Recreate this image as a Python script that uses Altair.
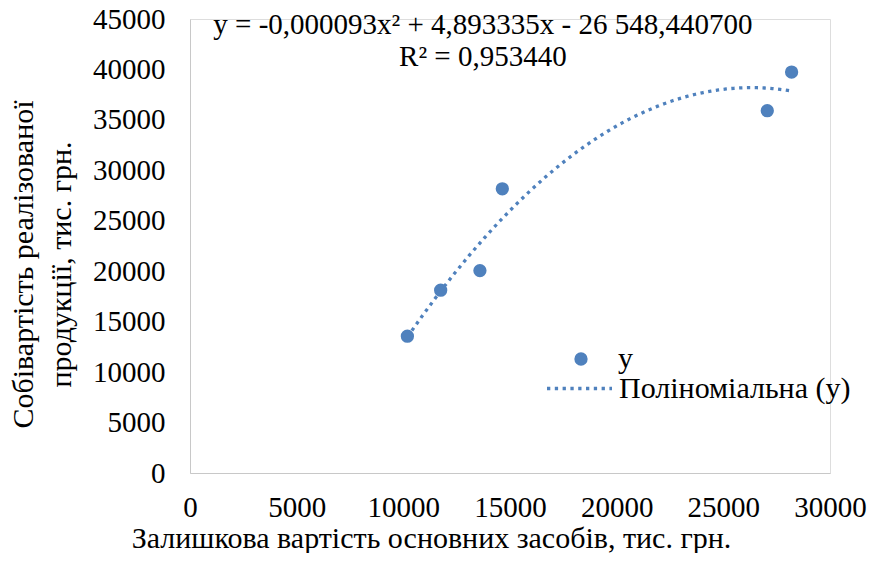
import altair as alt
import pandas as pd

# data
x_vals = [10190, 11750, 13590, 14640, 27060, 28200]
y_vals = [13560, 18120, 20060, 28170, 35910, 39740]
series_name = "у"
trend_name = "Поліноміальна (у)"

ann_text = ["y = -0,000093x² + 4,893335x - 26 548,440700", "R² = 0,953440"]
ann_x = [13730, 13730]
ann_y = [44450, 41230]

FONT = "Liberation Serif"
BLUE = "#4F81BD"
TICK_FS = 29
TITLE_FS = 30
LEG_FS = 30

df = pd.DataFrame({"x": x_vals, "y": y_vals, "s": [series_name] * len(x_vals)})
ann = pd.DataFrame({"t": ann_text, "x": ann_x, "y": ann_y})

xscale = alt.Scale(domain=[0, 30000], nice=False, zero=True)
yscale = alt.Scale(domain=[0, 45000], nice=False, zero=True)

xaxis = alt.Axis(
    values=list(range(0, 30001, 5000)), format="d", ticks=False, grid=False,
    domainColor="#c8c8c8", labelFont=FONT, labelFontSize=TICK_FS, labelColor="#000000",
    labelPadding=20, labelFlush=False,
    title="Залишкова вартість основних засобів, тис. грн.",
    titleFont=FONT, titleFontSize=TITLE_FS, titleFontWeight="normal", titleColor="#000000",
    titleX=241, titleY=74, titleAlign="center", titleBaseline="alphabetic",
)
yaxis = alt.Axis(
    values=list(range(0, 45001, 5000)), format="d", ticks=False, grid=False,
    domainColor="#c8c8c8", labelFont=FONT, labelFontSize=TICK_FS, labelColor="#000000",
    labelPadding=25, labelFlush=False,
    title=["Собівартість реалізованої", "продукції, тис. грн."],
    titleFont=FONT, titleFontSize=TITLE_FS, titleFontWeight="normal", titleColor="#000000",
    titleX=-158, titleY=245, titleAlign="center", titleBaseline="alphabetic",
    titleAngle=270, titleLineHeight=38,
)

base = alt.Chart(df)

points = base.mark_point(filled=True, size=177, opacity=1, shape="circle").encode(
    x=alt.X("x:Q", scale=xscale, axis=xaxis),
    y=alt.Y("y:Q", scale=yscale, axis=yaxis),
    color=alt.Color(
        "s:N",
        scale=alt.Scale(domain=[series_name], range=[BLUE]),
        legend=alt.Legend(
            title=None, orient="none", legendX=376, legendY=325, padding=0,
            symbolType="circle", symbolSize=177, labelOffset=22, labelLimit=400,
            labelFont=FONT, labelFontSize=LEG_FS, labelColor="#000000",
        ),
    ),
)

trend = (
    base.transform_regression("x", "y", method="poly", order=2)
    .transform_calculate(s2=f"'{trend_name}'")
    .mark_line(strokeDash=[3.3, 4.5], strokeWidth=3.3, strokeCap="butt")
    .encode(
        x=alt.X("x:Q", scale=xscale),
        y=alt.Y("y:Q", scale=yscale),
        color=alt.Color(
            "s2:N",
            scale=alt.Scale(domain=[trend_name], range=[BLUE]),
            legend=alt.Legend(
                title=None, orient="none", legendX=355, legendY=335, padding=0,
                symbolType="stroke", symbolSize=4225, symbolStrokeWidth=3.3,
                symbolDash=[3.3, 4.5], labelOffset=5, labelLimit=400,
                labelFont=FONT, labelFontSize=LEG_FS, labelColor="#000000",
            ),
        ),
    )
)

texts = alt.Chart(ann).mark_text(font=FONT, fontSize=TICK_FS, color="#000000", align="center", baseline="middle").encode(
    x=alt.X("x:Q", scale=xscale),
    y=alt.Y("y:Q", scale=yscale),
    text="t:N",
)

chart = (
    alt.layer(trend, points, texts)
    .resolve_scale(color="independent")
    .properties(width=640, height=454, autosize="none",
                padding={"left": 182, "top": 11, "right": 40, "bottom": 80})
    .configure_view(stroke=None)
    .configure(background="#ffffff")
)

chart.save("out.html", embed_options={"renderer": "svg", "actions": False})
